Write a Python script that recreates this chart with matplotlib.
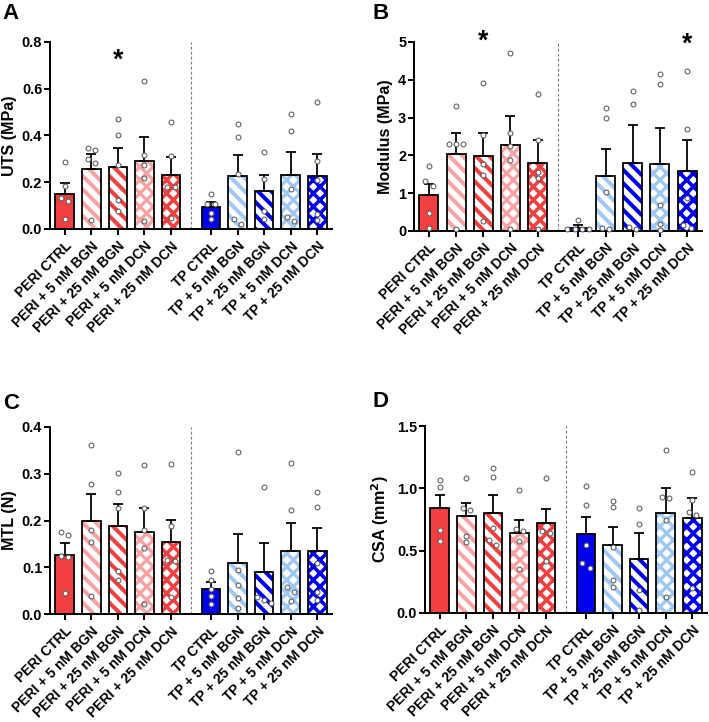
import numpy as np
import matplotlib
matplotlib.use('Agg')
import matplotlib.pyplot as plt

plt.rcParams['font.family'] = ['Liberation Sans', 'DejaVu Sans']
plt.rcParams['font.weight'] = 'bold'
plt.rcParams['axes.labelweight'] = 'bold'
plt.rcParams['hatch.linewidth'] = 3.6

groups = ['PERI CTRL', 'PERI + 5 nM BGN', 'PERI + 25 nM BGN', 'PERI + 5 nM DCN', 'PERI + 25 nM DCN',
          'TP CTRL', 'TP + 5 nM BGN', 'TP + 25 nM BGN', 'TP + 5 nM DCN', 'TP + 25 nM DCN']

# A - UTS (MPa)
uts_mean = [0.151, 0.258, 0.265, 0.292, 0.232, 0.093, 0.227, 0.163, 0.231, 0.225]
uts_top = [0.195, 0.320, 0.345, 0.394, 0.307, 0.114, 0.317, 0.232, 0.328, 0.320]
uts_pts = [[0.288, 0.185, 0.133, 0.118, 0.044],
           [0.347, 0.338, 0.300, 0.282, 0.037],
           [0.469, 0.400, 0.275, 0.123, 0.077],
           [0.632, 0.318, 0.275, 0.220, 0.033],
           [0.456, 0.314, 0.180, 0.180, 0.045],
           [0.148, 0.105, 0.105, 0.069, 0.043],
           [0.448, 0.392, 0.237, 0.041, 0.021],
           [0.330, 0.213, 0.077, 0.044],
           [0.494, 0.418, 0.171, 0.051, 0.033],
           [0.542, 0.291, 0.208, 0.066, 0.037]]

# B - Modulus (MPa)
mod_mean = [0.95, 2.05, 1.98, 2.28, 1.80, 0.08, 1.46, 1.79, 1.78, 1.59]
mod_top = [1.25, 2.60, 2.60, 3.05, 2.41, 0.15, 2.17, 2.81, 2.72, 2.42]
mod_pts = [[1.73, 1.33, 1.20, 0.47, 0.09],
           [3.32, 2.31, 2.31, 2.31, 0.04],
           [3.92, 2.54, 1.78, 1.48, 0.27],
           [4.72, 2.58, 2.25, 1.87, 0.05],
           [3.62, 2.41, 1.57, 1.40, 0.05],
           [0.30, 0.06, 0.05, 0.05, 0.04],
           [3.25, 3.00, 1.02, 0.07, 0.04],
           [3.70, 3.37, 0.10, 0.05],
           [4.15, 3.90, 0.68, 0.18, 0.03],
           [4.23, 2.71, 0.88, 0.15, 0.08]]

# C - MTL (N)
mtl_mean = [0.126, 0.200, 0.189, 0.175, 0.153, 0.054, 0.109, 0.089, 0.134, 0.134]
mtl_top = [0.151, 0.257, 0.236, 0.226, 0.202, 0.068, 0.171, 0.151, 0.194, 0.183]
mtl_pts = [[0.176, 0.169, 0.125, 0.121, 0.044],
           [0.361, 0.278, 0.180, 0.153, 0.038],
           [0.302, 0.262, 0.226, 0.091, 0.073],
           [0.318, 0.226, 0.179, 0.141, 0.021],
           [0.320, 0.188, 0.116, 0.114, 0.036],
           [0.093, 0.073, 0.053, 0.039, 0.022],
           [0.347, 0.094, 0.061, 0.034, 0.012],
           [0.271, 0.037, 0.030, 0.024],
           [0.324, 0.222, 0.057, 0.046, 0.027],
           [0.262, 0.229, 0.109, 0.048, 0.031]]

# D - CSA (mm2)
csa_mean = [0.845, 0.780, 0.804, 0.643, 0.718, 0.635, 0.544, 0.434, 0.804, 0.761]
csa_top = [0.946, 0.879, 0.946, 0.745, 0.834, 0.769, 0.692, 0.641, 1.000, 0.920]
csa_pts = [[1.066, 1.010, 0.662, 0.574],
           [1.082, 0.840, 0.823, 0.614, 0.571],
           [1.160, 1.088, 0.681, 0.584, 0.542],
           [0.984, 0.670, 0.657, 0.579, 0.354],
           [1.080, 0.657, 0.643, 0.421],
           [1.016, 0.866, 0.547, 0.402, 0.362],
           [0.895, 0.847, 0.531, 0.265, 0.209],
           [0.845, 0.710, 0.188, 0.021],
           [1.307, 0.930, 0.925, 0.745, 0.129],
           [1.130, 0.903, 0.807, 0.788, 0.201]]

RED, PINK = '#F23F3F', '#F7A3A3'
BLUE, LBLUE = '#0000F0', '#A0C8F2'
# (strong colour, light colour) per group, then pattern per condition
palette = [(RED, PINK)] * 5 + [(BLUE, LBLUE)] * 5
patterns = [(None, 'strong', 0), ('\\\\', 'light', 3.6), ('\\\\', 'strong', 3.6),
            ('xx', 'light', 3.0), ('xx', 'strong', 3.2)] * 2


def spread(vals, thr, step=0.27):
    # push overlapping points sideways like prism does
    order = np.argsort(vals)[::-1]
    offs = np.zeros(len(vals))
    cluster = [order[0]]
    clusters = []
    for k in order[1:]:
        if abs(vals[cluster[-1]] - vals[k]) < thr:
            cluster.append(k)
        else:
            clusters.append(cluster)
            cluster = [k]
    clusters.append(cluster)
    for c in clusters:
        n = len(c)
        for j, k in enumerate(c):
            offs[k] = (j - (n - 1) / 2) * step
    return offs


def draw_panel(ax, means, tops, pts, ymax, step, fmt, ylabel, stars, labx):
    xs = np.r_[np.arange(5), np.arange(5) + 5.5]
    w = 0.7
    for i, x in enumerate(xs):
        strong, light = palette[i]
        hatch, which, hlw = patterns[i]
        col = strong if which == 'strong' else light
        if hatch is None:
            ax.bar(x, means[i], width=w, color=col, linewidth=0, zorder=2)
        else:
            bars = ax.bar(x, means[i], width=w, color='white', edgecolor=col,
                          hatch=hatch, linewidth=0, zorder=2)
            for b in bars:
                if hasattr(b, 'set_hatch_linewidth'):
                    b.set_hatch_linewidth(hlw)
        ax.bar(x, means[i], width=w, fill=False, edgecolor='black', linewidth=1.6, zorder=3)

    sem = np.array(tops) - np.array(means)
    ax.errorbar(xs, means, yerr=[np.zeros(len(sem)), sem], fmt='none', ecolor='black',
                elinewidth=1.6, capsize=4.5, capthick=1.6, zorder=4)

    for i, x in enumerate(xs):
        v = np.array(pts[i])
        offs = spread(v, ymax * 0.028)
        ax.plot(x + offs, v, 'o', mfc='white', mec='#555555', ms=4.4, mew=0.9,
                zorder=5, clip_on=False)

    ax.axvline(4.75, color='#777777', linestyle=(0, (2.5, 2)), linewidth=1.0, zorder=1)

    ax.set_xlim(-0.55, 10.05)
    ax.set_ylim(0, ymax)
    ticks = np.arange(0, ymax + step / 2, step)
    ax.set_yticks(ticks)
    ax.set_yticklabels([fmt.format(t) for t in ticks])
    ax.set_xticks(xs)
    ax.set_xticklabels(groups, rotation=45, ha='right', rotation_mode='anchor')
    ax.spines['top'].set_visible(False)
    ax.spines['right'].set_visible(False)
    for s in ['left', 'bottom']:
        ax.spines[s].set_linewidth(1.8)
    ax.tick_params(width=1.8, length=5, pad=2)
    ax.tick_params(axis='y', labelsize=13)
    ax.tick_params(axis='x', labelsize=12.5, pad=4)
    ax.set_ylabel(ylabel, fontsize=14.5)
    ax.yaxis.set_label_coords(labx, 0.5)
    for sx, sy in stars:
        ax.text(sx, sy, '*', ha='center', va='center', fontsize=24, clip_on=False)


fig = plt.figure(figsize=(709 / 80, 722 / 80), dpi=80)
W, H = 709.0, 722.0


def rect(l, r, t, b):
    return [l / W, 1 - b / H, (r - l) / W, (b - t) / H]


axA = fig.add_axes(rect(50, 332, 42, 229))
axB = fig.add_axes(rect(414, 702, 42, 231))
axC = fig.add_axes(rect(50, 332, 427, 614))
axD = fig.add_axes(rect(425, 707, 426, 613))

draw_panel(axA, uts_mean, uts_top, uts_pts, 0.8, 0.2, '{:.1f}', 'UTS (MPa)', [(2, 0.72)], -0.117)
draw_panel(axB, mod_mean, mod_top, mod_pts, 5, 1, '{:.0f}', 'Modulus (MPa)',
           [(2, 5.0), (9.5, 4.93)], -0.073)
draw_panel(axC, mtl_mean, mtl_top, mtl_pts, 0.4, 0.1, '{:.1f}', 'MTL (N)', [], -0.117)
draw_panel(axD, csa_mean, csa_top, csa_pts, 1.5, 0.5, '{:.1f}', 'CSA (mm$^\\mathbf{2}$)', [], -0.12)

for lab, px, py in [('A', 2, 3), ('B', 373, 3), ('C', 3, 393), ('D', 373, 391)]:
    fig.text(px / W, 1 - py / H, lab, ha='left', va='top', fontsize=20, fontweight='bold')

fig.savefig('out.png', dpi=80)
